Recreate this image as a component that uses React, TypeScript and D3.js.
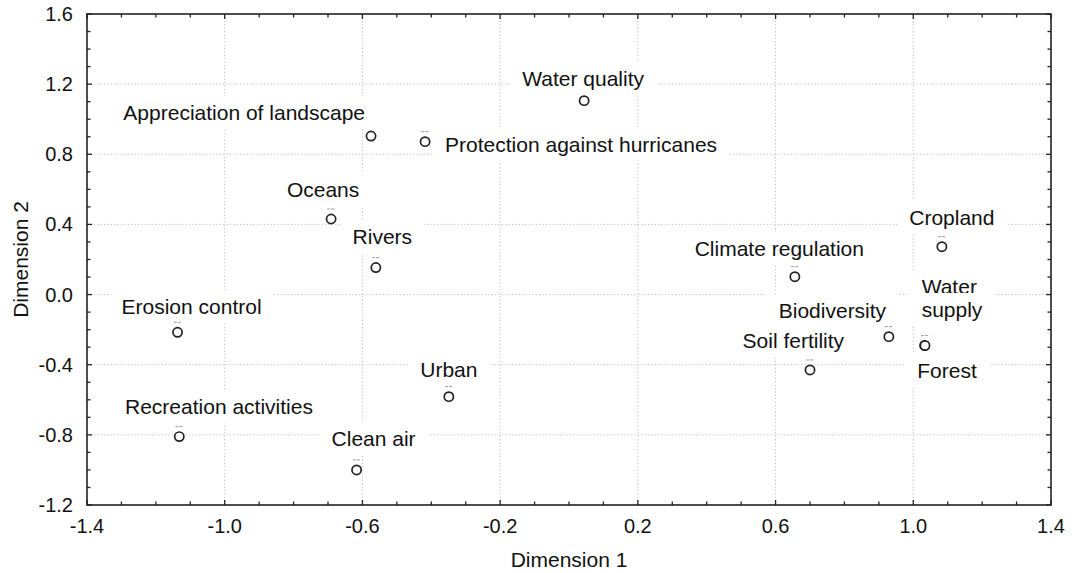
import React, { useEffect, useRef } from "react";
import * as d3 from "d3";

// ---- data ----
const names = [
  "Water quality",
  "Appreciation of landscape",
  "Protection against hurricanes",
  "Oceans",
  "Rivers",
  "Erosion control",
  "Recreation activities",
  "Urban",
  "Clean air",
  "Climate regulation",
  "Cropland",
  "Biodiversity",
  "Water supply",
  "Forest",
  "Soil fertility",
];
const dim1 = [0.044, -0.575, -0.418, -0.691, -0.561, -1.137, -1.132, -0.349, -0.617, 0.656, 1.083, 0.929, 1.033, 1.034, 0.7];
const dim2 = [1.106, 0.904, 0.872, 0.431, 0.154, -0.215, -0.81, -0.582, -1.0, 0.102, 0.273, -0.24, -0.29, -0.291, -0.43];
const xTicks = [-1.4, -1.0, -0.6, -0.2, 0.2, 0.6, 1.0, 1.4];
const yTicks = [-1.2, -0.8, -0.4, 0.0, 0.4, 0.8, 1.2, 1.6];
const xTitle = "Dimension 1";
const yTitle = "Dimension 2";

// ---- layout (label placement relative to marker, px) ----
const labelLayout: Record<string, { anchor: string; dx: number; dy: number[]; lines?: string[] }> = {
  "Water quality": { anchor: "middle", dx: -1, dy: [-14.7] },
  "Appreciation of landscape": { anchor: "end", dx: -6, dy: [-16] },
  "Protection against hurricanes": { anchor: "start", dx: 20, dy: [10] },
  Oceans: { anchor: "middle", dx: -8, dy: [-22] },
  Rivers: { anchor: "middle", dx: 6.5, dy: [-23.7] },
  "Erosion control": { anchor: "middle", dx: 14, dy: [-18] },
  "Recreation activities": { anchor: "middle", dx: 39.7, dy: [-22.7] },
  Urban: { anchor: "middle", dx: 0, dy: [-20] },
  "Clean air": { anchor: "middle", dx: 17, dy: [-24] },
  "Climate regulation": { anchor: "middle", dx: -15.5, dy: [-20.7] },
  Cropland: { anchor: "middle", dx: 10, dy: [-21.7] },
  Biodiversity: { anchor: "middle", dx: -56.4, dy: [-19] },
  "Water supply": { anchor: "start", dx: -3, dy: [-51.7, -28.4], lines: ["Water", "supply"] },
  Forest: { anchor: "middle", dx: 22, dy: [32] },
  "Soil fertility": { anchor: "middle", dx: -16.7, dy: [-21.7] },
};
const noMark = new Set(["Water quality", "Appreciation of landscape", "Water supply"]);

const W = 1072;
const H = 573;
const M = { left: 87, right: 1051, top: 14, bottom: 505 };
const FONT = "'Liberation Sans', Arial, Helvetica, sans-serif";

export default function App() {
  const ref = useRef<SVGSVGElement | null>(null);

  useEffect(() => {
    const svg = d3.select(ref.current);
    svg.selectAll("*").remove();

    const x = d3.scaleLinear().domain([-1.4, 1.4]).range([M.left, M.right]);
    const y = d3.scaleLinear().domain([-1.2, 1.6]).range([M.bottom, M.top]);

    svg.append("rect").attr("width", W).attr("height", H).attr("fill", "white");

    // grid
    const grid = svg.append("g").attr("stroke", "#bdbdbd").attr("stroke-width", 1).attr("stroke-dasharray", "1.2,2.2");
    xTicks.slice(1, -1).forEach((t) => {
      grid.append("line").attr("x1", x(t)).attr("x2", x(t)).attr("y1", M.top).attr("y2", M.bottom);
    });
    yTicks.slice(1, -1).forEach((t) => {
      grid.append("line").attr("y1", y(t)).attr("y2", y(t)).attr("x1", M.left).attr("x2", M.right);
    });

    // labels with white knockout boxes
    const lg = svg.append("g").attr("font-family", FONT).attr("font-size", 21).attr("fill", "#111");
    names.forEach((n, i) => {
      const L = labelLayout[n];
      const cx = x(dim1[i]);
      const cy = y(dim2[i]);
      const lines = L.lines || [n];
      lines.forEach((s, k) => {
        const g = lg.append("g");
        const rect = g.append("rect").attr("fill", "white");
        const t = g
          .append("text")
          .attr("x", cx + L.dx)
          .attr("y", cy + L.dy[k])
          .attr("text-anchor", L.anchor)
          .text(s);
        const bb = (t.node() as SVGTextElement).getBBox();
        rect
          .attr("x", bb.x - 12)
          .attr("y", bb.y - 5)
          .attr("width", bb.width + 24)
          .attr("height", bb.height + 10);
      });
    });

    // markers
    const mg = svg.append("g");
    names.forEach((n, i) => {
      const cx = x(dim1[i]);
      const cy = y(dim2[i]);
      if (!noMark.has(n)) {
        mg.append("line")
          .attr("x1", cx - 3.8)
          .attr("x2", cx + 3.8)
          .attr("y1", cy - 10)
          .attr("y2", cy - 10)
          .attr("stroke", "#999")
          .attr("stroke-width", 1)
          .attr("stroke-dasharray", "3,1");
      }
      mg.append("circle")
        .attr("cx", cx)
        .attr("cy", cy)
        .attr("r", 4.6)
        .attr("fill", "white")
        .attr("stroke", "#222")
        .attr("stroke-width", 1.7);
    });

    // frame
    svg.append("rect")
      .attr("x", M.left)
      .attr("y", M.top)
      .attr("width", M.right - M.left)
      .attr("height", M.bottom - M.top)
      .attr("fill", "none")
      .attr("stroke", "#222")
      .attr("stroke-width", 1.6);

    // ticks (inward, all sides)
    const tg = svg.append("g").attr("stroke", "#222").attr("stroke-width", 1.3);
    const xMinor = d3.range(0, 29).map((k) => -1.4 + k * 0.1);
    const yMinor = d3.range(0, 29).map((k) => -1.2 + k * 0.1);
    const isMajor = (v: number, list: number[]) => list.some((t) => Math.abs(t - v) < 1e-6);
    xMinor.forEach((v) => {
      const len = isMajor(v, xTicks) ? 5 : 3.5;
      tg.append("line").attr("x1", x(v)).attr("x2", x(v)).attr("y1", M.bottom).attr("y2", M.bottom - len);
      tg.append("line").attr("x1", x(v)).attr("x2", x(v)).attr("y1", M.top).attr("y2", M.top + len);
    });
    yMinor.forEach((v) => {
      const len = isMajor(v, yTicks) ? 5 : 3.5;
      tg.append("line").attr("y1", y(v)).attr("y2", y(v)).attr("x1", M.left).attr("x2", M.left + len);
      tg.append("line").attr("y1", y(v)).attr("y2", y(v)).attr("x1", M.right).attr("x2", M.right - len);
    });

    // tick labels
    const al = svg.append("g").attr("font-family", FONT).attr("font-size", 20).attr("fill", "#111");
    xTicks.forEach((t) => {
      al.append("text").attr("x", x(t)).attr("y", 533).attr("text-anchor", "middle").text(t.toFixed(1));
    });
    yTicks.forEach((t) => {
      al.append("text")
        .attr("x", 73)
        .attr("y", y(t) + 7)
        .attr("text-anchor", "end")
        .text(t.toFixed(1));
    });

    // axis titles
    const tt = svg.append("g").attr("font-family", FONT).attr("font-size", 21).attr("fill", "#111");
    tt.append("text").attr("x", (M.left + M.right) / 2).attr("y", 567).attr("text-anchor", "middle").text(xTitle);
    tt.append("text")
      .attr("transform", `translate(28,${(M.top + M.bottom) / 2}) rotate(-90)`)
      .attr("text-anchor", "middle")
      .text(yTitle);
  }, []);

  return (
    <svg
      ref={ref}
      width={W}
      height={H}
      style={{ position: "absolute", left: 0, top: 0, display: "block" }}
    />
  );
}
